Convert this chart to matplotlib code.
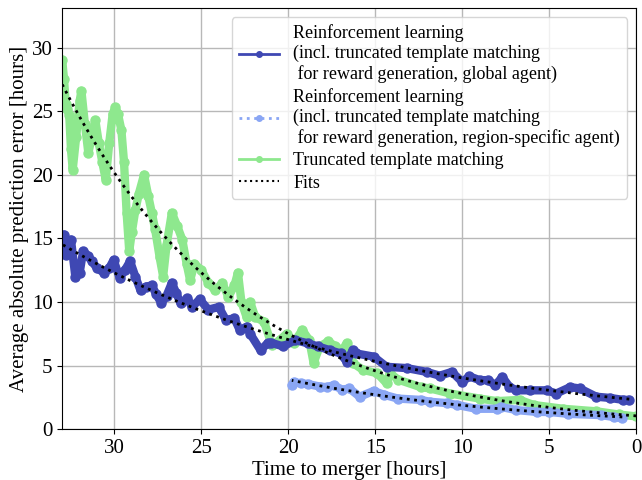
import numpy as np
import matplotlib.pyplot as plt
from matplotlib.lines import Line2D

plt.rcParams['font.family'] = ['Liberation Serif', 'DejaVu Serif']

# time to merger [hours] and mean absolute prediction error [hours]
t_global = [33.0, 32.9, 32.8, 32.5, 32.25, 32.0, 31.8, 31.5, 31.3, 31.0, 30.6, 30.3, 30.05,
            29.7, 29.4, 29.1, 28.8, 28.5, 28.2, 27.85, 27.6, 27.3, 27.0, 26.7, 26.45, 26.2,
            25.8, 25.55, 25.1, 24.6, 24.0, 23.6, 23.1, 22.8, 22.4, 22.2, 21.6, 21.2, 21.0,
            20.3, 19.6, 18.9, 18.3, 17.6, 17.0, 16.65, 16.3, 16.1, 15.1, 14.35, 13.2, 12.05,
            11.3, 10.6, 10.0, 9.6, 9.0, 8.5, 8.1, 7.7, 7.3, 6.9, 6.1, 5.15, 4.6, 3.8, 3.25,
            2.3, 1.5, 0.75, 0.4]
err_global = [14.6, 15.3, 13.7, 14.9, 12.0, 12.3, 14.0, 13.6, 13.2, 12.65, 12.3, 12.65, 13.3,
              11.9, 12.5, 13.2, 12.0, 10.9, 11.2, 11.3, 10.6, 9.9, 10.5, 11.5, 10.7, 9.9,
              10.3, 9.6, 10.2, 9.4, 9.6, 8.6, 8.7, 7.8, 8.05, 7.5, 6.2, 6.75, 6.8,
              6.5, 7.0, 6.75, 6.5, 6.2, 5.95, 5.3, 6.2, 5.95, 5.7, 4.9, 4.8, 4.5,
              4.2, 4.5, 3.7, 4.15, 3.85, 3.85, 3.45, 4.1, 3.35, 3.05, 3.05, 3.05, 2.8, 3.3, 3.2,
              2.55, 2.45, 2.3, 2.3]

t_region = [19.8, 19.7, 19.3, 18.9, 18.2, 17.8, 17.4, 16.9, 16.5, 15.9, 15.1, 14.5, 13.7,
            12.4, 11.85, 10.9, 10.3, 9.2, 8.0, 7.8, 6.9, 5.7, 5.0, 3.9, 2.0, 1.3, 0.8]
err_region = [3.45, 3.7, 3.6, 3.55, 3.35, 3.3, 3.45, 3.1, 3.2, 2.55, 3.0, 2.7, 2.4,
              2.3, 2.15, 2.05, 1.9, 1.6, 1.6, 1.75, 1.5, 1.35, 1.35, 1.2, 1.1, 0.95, 0.85]

t_ttm = [33.0, 32.9, 32.8, 32.7, 32.6, 32.5, 32.4, 32.2, 32.0, 31.9, 31.7, 31.5, 31.3, 31.1,
         30.9, 30.7, 30.5, 30.3, 30.1, 29.95, 29.8, 29.6, 29.45, 29.3, 29.15, 29.0, 28.8,
         28.6, 28.3, 28.05, 27.85, 27.66, 27.4, 27.2, 27.0, 26.7, 26.4, 26.1, 25.85, 25.65,
         25.4, 25.0, 24.6, 24.2, 23.8, 23.45, 23.1, 22.9, 22.7, 22.4, 22.2, 21.9, 21.4,
         20.95, 20.5, 20.1, 19.7, 19.2, 18.8, 18.55, 18.2, 17.7, 17.3, 16.9, 16.65, 16.3,
         15.7, 14.9, 14.35, 14.15, 13.7, 12.4, 11.85, 10.7, 9.0, 8.0, 6.7, 5.9, 4.2, 2.3,
         1.0, 0.0]
err_ttm = [29.0, 27.5, 25.6, 25.2, 24.7, 22.0, 20.4, 23.0, 25.8, 26.6, 24.0, 21.7, 23.0, 24.3,
           22.5, 21.0, 19.6, 22.5, 24.8, 25.3, 24.8, 23.5, 21.0, 17.0, 14.0, 15.5, 17.2,
           18.5, 20.0, 18.3, 17.0, 15.7, 13.5, 12.0, 14.5, 17.0, 16.0, 14.9, 13.0, 11.7,
           13.0, 12.5, 11.5, 10.9, 11.5, 10.4, 11.3, 12.3, 10.0, 8.8, 10.0, 8.8, 8.45,
           6.6, 7.0, 7.5, 6.75, 7.8, 7.0, 5.2, 6.5, 6.9, 6.5, 6.2, 6.75, 5.2,
           4.65, 4.4, 3.6, 4.4, 3.9, 3.3, 3.2, 2.8, 2.4, 2.2, 2.3, 1.9, 1.6, 1.4,
           1.15, 1.0]

c_global = '#3f48b3'
c_region = '#8aa6f4'
c_ttm = '#8ee88e'

labels = ['Reinforcement learning\n(incl. truncated template matching\n for reward generation, global agent)',
          'Reinforcement learning\n(incl. truncated template matching\n for reward generation, region-specific agent)',
          'Truncated template matching',
          'Fits']


def expfit(t, err):
    # exponential fit err = a*exp(b*t) in log space,
    # points weighted by the time span they cover
    t = np.asarray(t)
    span = np.abs(np.gradient(t))
    b, loga = np.polyfit(t, np.log(err), 1, w=np.sqrt(span))
    tt = np.linspace(t.min(), t.max(), 200)
    return tt, np.exp(loga) * np.exp(b * tt)


fig, ax = plt.subplots(figsize=(6.42, 4.8), dpi=100)
fig.subplots_adjust(left=0.097, right=0.991, bottom=0.106, top=0.983)

ax.grid(True, color='#b8b8b8', linewidth=1.0, zorder=0)
ax.set_axisbelow(True)

for t, err, c in [(t_ttm, err_ttm, c_ttm), (t_global, err_global, c_global), (t_region, err_region, c_region)]:
    ax.plot(t, err, color=c, lw=6, marker='o', ms=6.5, solid_joinstyle='round',
            solid_capstyle='round', zorder=2)

for t, err in [(t_global, err_global), (t_region, err_region), (t_ttm, err_ttm)]:
    tt, ff = expfit(t, err)
    ax.plot(tt, ff, color='black', ls=':', lw=2, zorder=3)

ax.set_xlim(33, 0)
ax.set_ylim(0, 33.1)
ax.set_xticks([30, 25, 20, 15, 10, 5, 0])
ax.set_yticks([0, 5, 10, 15, 20, 25, 30])
ax.tick_params(labelsize=15)
ax.set_xlabel('Time to merger [hours]', fontsize=15, labelpad=2)
ax.set_ylabel('Average absolute prediction error [hours]', fontsize=15, labelpad=2)

handles = [Line2D([], [], color=c_global, lw=2, marker='o', ms=4),
           Line2D([], [], color=c_region, lw=2, ls=':', marker='o', ms=4),
           Line2D([], [], color=c_ttm, lw=2, marker='o', ms=4),
           Line2D([], [], color='black', lw=1.5, ls=':')]
ax.legend(handles, labels, loc='upper right', fontsize=13, handlelength=2.2,
          borderaxespad=0.5, labelspacing=0.3)

fig.savefig('out.png', dpi=100)
